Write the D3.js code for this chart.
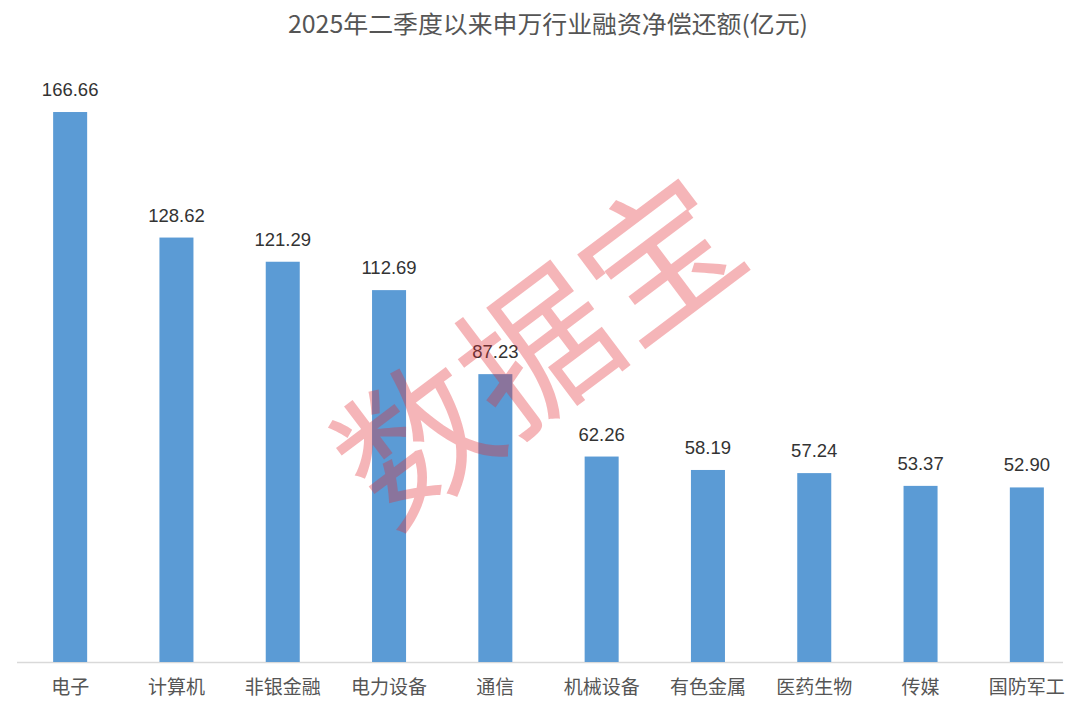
<!DOCTYPE html>
<html><head><meta charset="utf-8">
<script src="https://cdn.jsdelivr.net/npm/d3@7"></script>
<style>body{margin:0;background:#fff;}svg{display:block;}</style>
</head><body>
<script>
const title = "2025年二季度以来申万行业融资净偿还额(亿元)";
const categories = ["电子","计算机","非银金融","电力设备","通信","机械设备","有色金属","医药生物","传媒","国防军工"];
const values = [166.66,128.62,121.29,112.69,87.23,62.26,58.19,57.24,53.37,52.90];
const valueLabels = ["166.66","128.62","121.29","112.69","87.23","62.26","58.19","57.24","53.37","52.90"];
const watermark = "数据宝";

const W = 1080, H = 702;
const font = "'Noto Sans CJK SC','Noto Sans',sans-serif";
const svg = d3.select("body").append("svg").attr("width", W).attr("height", H);

const x = d3.scaleBand().domain(categories).range([17, 1080]).paddingInner(0.68).paddingOuter(0.34);
const y = d3.scaleLinear().domain([0, 180]).range([662, 68]);

svg.append("text").attr("x", 548).attr("y", 33).attr("text-anchor", "middle")
  .attr("font-family", font).attr("font-size", 24).attr("fill", "#555")
  .attr("textLength", 520).attr("lengthAdjust", "spacingAndGlyphs").text(title);

svg.append("line").attr("x1", 17).attr("x2", 1063).attr("y1", y(0)+0.5).attr("y2", y(0)+0.5)
  .attr("stroke", "#d9d9d9").attr("stroke-width", 1.5);

svg.selectAll("rect.bar").data(values).join("rect").attr("class","bar")
  .attr("x", (d,i) => x(categories[i])).attr("width", x.bandwidth())
  .attr("y", d => y(d)).attr("height", d => y(0) - y(d))
  .attr("fill", "#5b9bd5");

svg.selectAll("text.val").data(values).join("text").attr("class","val")
  .attr("x", (d,i) => x(categories[i]) + x.bandwidth()/2).attr("y", d => y(d) - 16)
  .attr("text-anchor", "middle").attr("font-family", "Arial,'Liberation Sans',sans-serif")
  .attr("font-size", 18.5).attr("fill", "#333").text((d,i) => valueLabels[i]);

const xAxis = d3.axisBottom(x).tickSize(0).tickPadding(0);
const gx = svg.append("g").attr("transform", `translate(0,${y(0)})`).call(xAxis);
gx.select(".domain").remove();
gx.selectAll("text").attr("font-family", font).attr("font-size", 19).attr("fill", "#555")
  .attr("dy", null).attr("y", 32);

svg.append("text").attr("transform", "translate(532,342) rotate(-37)")
  .attr("text-anchor", "middle").attr("dominant-baseline", "central")
  .attr("font-family", font).attr("font-size", 152).attr("fill", "rgb(227,42,51)")
  .attr("fill-opacity", 0.35).text(watermark);
</script>
</body></html>
